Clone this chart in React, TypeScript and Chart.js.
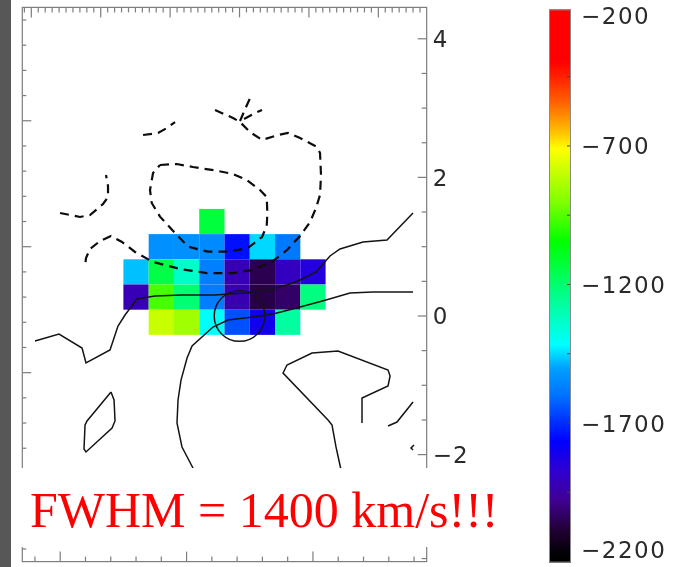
import React, { useEffect, useRef } from "react";
import { Chart, registerables } from "chart.js";

Chart.register(...registerables);

const W = 675;
const H = 567;

// ---- axis ranges (arcsec, relative to the nucleus) ----
const X_MIN = -3.13;
const X_MAX = 2.697;
const Y_MIN = -3.544;
const Y_MAX = 4.453;
// spaxel grid (left / bottom axes)
const COL_MIN = -0.5;
const COL_MAX = 15.5;
const ROW_MIN = -0.5;
const ROW_MAX = 21.5;
// colour bar (km/s)
const CB_MIN = -2200;
const CB_MAX = -200;

// ---- tick labels ----
const RIGHT_LABELS = [4, 2, 0, -2];
const CB_LABELS = [-200, -700, -1200, -1700, -2200];
const COL_MAJOR = [1, 6, 11];
const ROW_MAJOR = [2, 7, 12, 17];

// ---- velocity map (km/s) ----
const CELL_COLUMNS = [4, 5, 6, 7, 8, 9, 10, 11];
const CELL_ROWS = [13, 12, 11, 10, 9];
const VELOCITY: (number | null)[][] = [
  [null, null, null, -1124, null, null, null, null],
  [null, -1532, -1532, -1545, -1738, -1447, -1580, null],
  [-1469, -1139, -1329, -1566, -1915, -2051, -1897, -1840],
  [-1915, -961, -1200, -1570, -1925, -2060, -2024, -1220],
  [null, -786, -847, -1405, -1645, -1800, -1268, null],
];

// ---- colour table (value, r, g, b) ----
const CMAP: number[][] = [
  [-200, 255, 0, 0],
  [-390, 255, 0, 0],
  [-444, 255, 32, 0],
  [-534, 255, 96, 0],
  [-589, 255, 144, 0],
  [-643, 255, 192, 0],
  [-704, 255, 255, 0],
  [-895, 128, 255, 0],
  [-1040, 0, 255, 0],
  [-1220, 0, 255, 128],
  [-1412, 0, 255, 255],
  [-1498, 0, 160, 255],
  [-1600, 0, 112, 255],
  [-1690, 0, 48, 255],
  [-1762, 0, 0, 255],
  [-1870, 48, 0, 208],
  [-1979, 64, 0, 144],
  [-2087, 32, 0, 48],
  [-2177, 0, 0, 0],
  [-2200, 0, 0, 0],
];

// ---- contours (arcsec) ----
const DASHED_INNER = [
  [-1.146, 2.179], [-0.905, 2.193], [-0.67, 2.15], [-0.329, 2.097], [-0.094, 2.049],
  [0.104, 1.962], [0.295, 1.818], [0.392, 1.717], [0.401, 1.486], [0.392, 1.299],
  [0.324, 1.14], [0.122, 0.981], [-0.166, 0.928], [-0.454, 0.928], [-0.742, 1.0],
  [-0.929, 1.198], [-1.146, 1.433], [-1.265, 1.631], [-1.29, 1.818], [-1.246, 2.063],
  [-1.146, 2.179],
];
const DASHED_OUTER = [
  [-0.353, 2.973], [-0.094, 2.857], [0.007, 2.799], [0.151, 2.655], [0.324, 2.54],
  [0.555, 2.612], [0.699, 2.641], [0.872, 2.569], [1.117, 2.439], [1.16, 2.352],
  [1.174, 2.035], [1.16, 1.746], [1.102, 1.558], [1.016, 1.356], [0.872, 1.154],
  [0.684, 0.952], [0.483, 0.794], [0.195, 0.664], [-0.094, 0.62], [-0.468, 0.62],
  [-0.857, 0.678], [-1.246, 0.779], [-1.506, 0.924], [-1.693, 1.068], [-1.852, 1.154],
  [-2.01, 1.082], [-2.154, 0.967], [-2.212, 0.837], [-2.226, 0.722],
];
const DASHED_FORK_A = [[0.007, 2.814], [0.094, 3.016], [0.166, 3.175]];
const DASHED_FORK_B = [[0.065, 2.843], [0.223, 2.929], [0.324, 2.973]];
const DASHED_NW = [[-1.39, 2.612], [-1.174, 2.641], [-1.045, 2.713], [-0.929, 2.799]];
const DASHED_W = [
  [-2.586, 1.486], [-2.298, 1.429], [-2.154, 1.457], [-1.967, 1.616],
  [-1.895, 1.717], [-1.895, 1.876], [-1.924, 2.035],
];
const SOLID_RIDGE = [
  [-2.947, -0.361], [-2.601, -0.26], [-2.269, -0.462], [-2.212, -0.678], [-1.866, -0.491],
  [-1.751, -0.144], [-1.65, 0.014], [-1.477, 0.245], [-1.218, 0.289], [-0.829, 0.303],
  [-0.353, 0.303], [0.079, 0.332], [0.396, 0.375], [0.684, 0.447], [0.872, 0.519],
  [1.102, 0.635], [1.304, 0.866], [1.448, 0.967], [1.78, 1.068], [2.125, 1.097], [2.5, 1.486],
];
const SOLID_SOUTH = [
  [-0.656, -2.222], [-0.829, -1.89], [-0.901, -1.544], [-0.886, -1.212], [-0.843, -0.924],
  [-0.756, -0.606], [-0.684, -0.433], [-0.382, -0.159], [-0.166, -0.058], [0.195, -0.014],
  [0.483, 0.029], [0.872, 0.13], [1.246, 0.231], [1.592, 0.332], [1.924, 0.346], [2.5, 0.346],
];
const SOLID_HOOK = [
  [1.463, -2.222], [1.39, -1.89], [1.333, -1.573], [1.275, -1.501], [0.627, -0.823],
  [0.684, -0.707], [1.045, -0.534], [1.419, -0.505], [2.14, -0.779], [2.169, -0.866],
  [2.14, -1.01], [1.765, -1.183], [1.765, -1.544],
];
const SOLID_SE = [[2.14, -1.587], [2.269, -1.53], [2.5, -1.241]];
const SOLID_TICK = [[2.514, -1.861], [2.471, -1.905], [2.5, -1.934]];
const SOLID_LOOP = [
  [-1.852, -1.097], [-1.808, -1.212], [-1.794, -1.515], [-1.837, -1.616], [-2.212, -1.962],
  [-2.241, -1.919], [-2.226, -1.573], [-2.197, -1.515], [-1.852, -1.097],
];
const NUCLEUS = { x: 0, y: 0, r: 0.365 };

const DASHED = [DASHED_INNER, DASHED_OUTER, DASHED_FORK_A, DASHED_FORK_B, DASHED_NW, DASHED_W];
const SOLID = [SOLID_RIDGE, SOLID_SOUTH, SOLID_HOOK, SOLID_SE, SOLID_TICK, SOLID_LOOP];

const ANNOTATION = "FWHM = 1400 km/s!!!";

function colorFor(v: number): string {
  if (v >= CMAP[0][0]) return `rgb(${CMAP[0][1]},${CMAP[0][2]},${CMAP[0][3]})`;
  for (let i = 0; i < CMAP.length - 1; i++) {
    const a = CMAP[i];
    const b = CMAP[i + 1];
    if (v <= a[0] && v >= b[0]) {
      const t = (a[0] - v) / (a[0] - b[0]);
      const r = Math.round(a[1] + (b[1] - a[1]) * t);
      const g = Math.round(a[2] + (b[2] - a[2]) * t);
      const bl = Math.round(a[3] + (b[3] - a[3]) * t);
      return `rgb(${r},${g},${bl})`;
    }
  }
  return "rgb(0,0,0)";
}

function fmt(v: number): string {
  return v < 0 ? "\u2212" + String(-v) : String(v);
}

export default function App() {
  const ref = useRef<HTMLCanvasElement>(null);

  useEffect(() => {
    const canvas = ref.current;
    if (!canvas) return;
    const AXIS = "#7d7d7d";
    const LABEL = "#2a2a2a";

    const line = (ctx: CanvasRenderingContext2D, x1: number, y1: number, x2: number, y2: number) => {
      ctx.beginPath();
      ctx.moveTo(x1, y1);
      ctx.lineTo(x2, y2);
      ctx.stroke();
    };

    const plugin = {
      id: "sketch",
      beforeDraw(chart: any) {
        const ctx = chart.ctx;
        ctx.save();
        ctx.fillStyle = "#ffffff";
        ctx.fillRect(0, 0, W, H);
        ctx.restore();
      },
      beforeDatasetsDraw(chart: any) {
        const ctx = chart.ctx;
        const px = chart.scales.xPix;
        const py = chart.scales.yPix;
        ctx.save();
        CELL_ROWS.forEach((r, ri) => {
          CELL_COLUMNS.forEach((c, ci) => {
            const v = VELOCITY[ri][ci];
            if (v === null) return;
            const x0 = px.getPixelForValue(c - 0.5);
            const x1 = px.getPixelForValue(c + 0.5);
            const y0 = py.getPixelForValue(r + 0.5);
            const y1 = py.getPixelForValue(r - 0.5);
            ctx.fillStyle = colorFor(v);
            ctx.fillRect(x0, y0, x1 - x0, y1 - y0);
          });
        });
        ctx.restore();
      },
      afterDatasetsDraw(chart: any) {
        const ctx = chart.ctx;
        const sx = chart.scales.x;
        const sy = chart.scales.y;
        const cx = sx.getPixelForValue(NUCLEUS.x);
        const cy = sy.getPixelForValue(NUCLEUS.y);
        const rad = sx.getPixelForValue(NUCLEUS.x + NUCLEUS.r) - cx;
        ctx.save();
        ctx.strokeStyle = "#151515";
        ctx.lineWidth = 1.5;
        ctx.beginPath();
        ctx.arc(cx, cy, rad, 0, Math.PI * 2);
        ctx.stroke();
        ctx.restore();
      },
      afterDraw(chart: any) {
        const ctx: CanvasRenderingContext2D = chart.ctx;
        const sx = chart.scales.x;
        const sy = chart.scales.y;
        const px = chart.scales.xPix;
        const py = chart.scales.yPix;
        const cb = chart.scales.cb;
        const { left, right, top, bottom } = chart.chartArea;
        ctx.save();
        ctx.strokeStyle = AXIS;
        ctx.lineWidth = 1.2;
        ctx.strokeRect(left, top, right - left, bottom - top);

        // top axis (arcsec), minor every 0.1
        for (let i = Math.ceil(X_MIN * 10); i <= Math.floor(X_MAX * 10); i++) {
          const x = sx.getPixelForValue(i / 10);
          if (x <= left + 0.5 || x >= right - 0.5) continue;
          line(ctx, x, top, x, top + (i % 10 === 0 ? 10 : 5));
        }
        // right axis (arcsec), minor every 0.5
        for (let i = Math.ceil(Y_MIN * 2); i <= Math.floor(Y_MAX * 2); i++) {
          const y = sy.getPixelForValue(i / 2);
          line(ctx, right, y, right - (i % 4 === 0 ? 9 : 5), y);
        }
        // left axis (spaxel rows)
        for (let r = 0; r <= 21; r++) {
          const y = py.getPixelForValue(r);
          line(ctx, left, y, left + (ROW_MAJOR.includes(r) ? 9 : 4), y);
        }
        // bottom axis (spaxel columns)
        for (let c = 0; c <= 15; c++) {
          const x = px.getPixelForValue(c);
          line(ctx, x, bottom, x, bottom - (COL_MAJOR.includes(c) ? 10 : 5));
        }

        // right axis labels
        ctx.fillStyle = LABEL;
        ctx.font = '23px "DejaVu Sans"';
        ctx.textAlign = "left";
        ctx.textBaseline = "middle";
        (ctx as any).letterSpacing = "1px";
        RIGHT_LABELS.forEach((v) => {
          ctx.fillText(fmt(v), right + 6, sy.getPixelForValue(v) + 2.5);
        });

        // colour bar
        const bx0 = 549;
        const bx1 = 571;
        const yTop = cb.getPixelForValue(CB_MAX) + 2;
        const yBot = cb.getPixelForValue(CB_MIN) + 1;
        const grad = ctx.createLinearGradient(0, yTop, 0, yBot);
        CMAP.forEach((s) => {
          const t = Math.min(1, Math.max(0, (CB_MAX - s[0]) / (CB_MAX - CB_MIN)));
          grad.addColorStop(t, `rgb(${s[1]},${s[2]},${s[3]})`);
        });
        ctx.fillStyle = grad;
        ctx.fillRect(bx0, yTop, bx1 - bx0, yBot - yTop);
        ctx.strokeStyle = "#8a8a8a";
        ctx.lineWidth = 1;
        ctx.strokeRect(bx0 + 0.5, yTop + 0.5, bx1 - bx0 - 1, yBot - yTop - 1);
        ctx.strokeStyle = "#444";
        for (let v = CB_MAX; v >= CB_MIN; v -= 250) {
          const y = cb.getPixelForValue(v);
          if (y <= yTop + 1 || y >= yBot - 1) continue;
          line(ctx, bx1 - 1, y, bx1 - 4, y);
        }
        ctx.fillStyle = LABEL;
        (ctx as any).letterSpacing = "1.5px";
        CB_LABELS.forEach((v) => {
          const y = Math.min(552, Math.max(18, cb.getPixelForValue(v) + 2.5));
          ctx.fillText(fmt(v), 581, y);
        });
        (ctx as any).letterSpacing = "0px";

        // annotation box
        ctx.fillStyle = "#ffffff";
        ctx.fillRect(11, 468, 515, 79);
        ctx.fillStyle = "#ff0000";
        ctx.font = '50px "Liberation Serif"';
        ctx.textBaseline = "alphabetic";
        ctx.fillText(ANNOTATION, 30, 527);

        // dark slide edge
        ctx.fillStyle = "#575757";
        ctx.fillRect(0, 0, 11, H);
        ctx.restore();
      },
    };

    const toPts = (arr: number[][]) => arr.map(([x, y]) => ({ x, y }));
    const datasets = [
      ...DASHED.map((c) => ({
        data: toPts(c),
        showLine: true,
        borderColor: "#0d0d0d",
        borderWidth: 2.2,
        borderDash: [9, 6],
        pointRadius: 0,
        pointHoverRadius: 0,
        tension: 0,
        fill: false,
        xAxisID: "x",
        yAxisID: "y",
      })),
      ...SOLID.map((c) => ({
        data: toPts(c),
        showLine: true,
        borderColor: "#141414",
        borderWidth: 1.5,
        pointRadius: 0,
        pointHoverRadius: 0,
        tension: 0,
        fill: false,
        xAxisID: "x",
        yAxisID: "y",
      })),
    ];

    const chart = new Chart(canvas, {
      type: "scatter",
      data: { datasets } as any,
      options: {
        responsive: false,
        animation: false,
        events: [],
        layout: { padding: { left: 22.3, right: W - 426.7, top: 7.4, bottom: H - 561.6 } },
        plugins: {
          legend: { display: false },
          tooltip: { enabled: false },
          title: { display: false },
        },
        scales: {
          x: { type: "linear", min: X_MIN, max: X_MAX, display: false },
          y: { type: "linear", min: Y_MIN, max: Y_MAX, display: false },
          xPix: { type: "linear", axis: "x", position: "bottom", min: COL_MIN, max: COL_MAX, display: false },
          yPix: { type: "linear", axis: "y", position: "left", min: ROW_MIN, max: ROW_MAX, display: false },
          cb: { type: "linear", axis: "y", position: "right", min: CB_MIN, max: CB_MAX, display: false },
        },
      } as any,
      plugins: [plugin],
    });
    return () => chart.destroy();
  }, []);

  return (
    <div style={{ position: "fixed", left: 0, top: 0, width: W, height: H, background: "#fff" }}>
      <canvas ref={ref} width={W} height={H} style={{ width: W, height: H, display: "block" }} />
    </div>
  );
}
